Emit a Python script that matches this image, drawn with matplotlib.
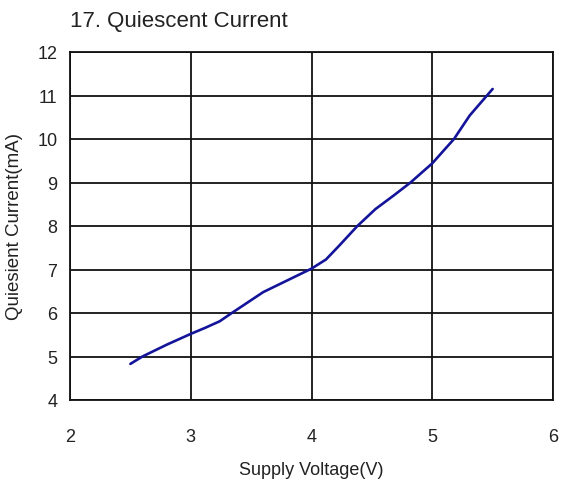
import matplotlib
matplotlib.use("Agg")
import matplotlib.pyplot as plt

plt.rcParams['font.family'] = ['Liberation Sans', 'DejaVu Sans']

voltage = [2.5, 2.6, 2.8, 3.0, 3.12, 3.24, 3.34, 3.6, 3.8, 4.0, 4.12, 4.23,
           4.38, 4.53, 4.68, 4.82, 5.0, 5.18, 5.31, 5.5]
current = [4.83, 5.0, 5.27, 5.52, 5.66, 5.81, 6.0, 6.48, 6.75, 7.02, 7.23, 7.55,
           8.0, 8.39, 8.7, 9.0, 9.44, 10.0, 10.54, 11.15]
xticks = [2, 3, 4, 5, 6]
yticks = [4, 5, 6, 7, 8, 9, 10, 11, 12]

fig = plt.figure(figsize=(5.62, 4.85), dpi=100)
ax = fig.add_axes([70/562, 1 - 401/485, (553 - 70)/562, (401 - 53)/485])

ax.plot(voltage, current, color='#14149a', linewidth=1.9, solid_capstyle='round')
ax.set_xlim(2, 6)
ax.set_ylim(4, 12)
ax.set_xticks(xticks)
ax.set_yticks(yticks)
ax.grid(True, color='#111111', linewidth=1.3)
ax.set_axisbelow(True)
for s in ax.spines.values():
    s.set_color('#111111')
    s.set_linewidth(1.3)
ax.tick_params(length=0, labelsize=13, colors='#222222')
ax.tick_params(axis='x', pad=20)
ax.tick_params(axis='y', pad=9)

ax.set_xlabel('Supply Voltage(V)', fontsize=13, color='#222222', labelpad=12)
ax.set_ylabel('Quiesient Current(mA)', fontsize=13.5, color='#222222', labelpad=10)

fig.text(70/562, 1 - 21/485, '17. Quiescent Current', fontsize=16,
         color='#222222', ha='left', va='center')

fig.savefig('out.png', dpi=100, facecolor='white')
